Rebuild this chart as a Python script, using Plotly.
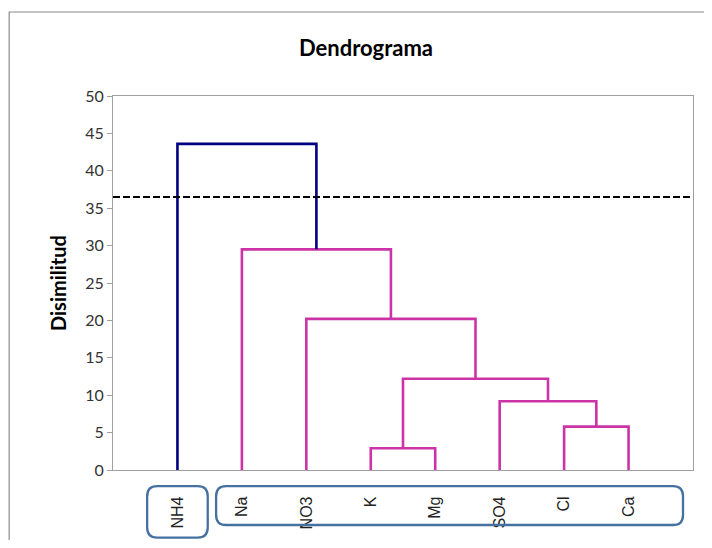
import plotly.graph_objects as go

# ---- data ----
leaves = ["NH4", "Na", "NO3", "K", "Mg", "SO4", "Cl", "Ca"]
# merges (scipy style): child_a, child_b, dissimilarity ; new ids start at len(leaves)
merge_a = [3, 6, 5, 8, 2, 1, 0]
merge_b = [4, 7, 9, 10, 11, 12, 13]
merge_h = [2.9, 5.8, 9.2, 12.2, 20.2, 29.5, 43.6]
cut_level = 36.5

NAVY = "#000080"
MAGENTA = "#CC33A6"

# positions of nodes
pos = {i: i + 1 for i in range(len(leaves))}
hgt = {i: 0.0 for i in range(len(leaves))}

fig = go.Figure()
for k, (a, b, h) in enumerate(zip(merge_a, merge_b, merge_h)):
    nid = len(leaves) + k
    xa, xb = pos[a], pos[b]
    color = NAVY if h > cut_level else MAGENTA
    fig.add_trace(go.Scatter(
        x=[xa, xa, xb, xb], y=[hgt[a], h, h, hgt[b]],
        mode="lines", line=dict(color=color, width=2.6),
        showlegend=False, hoverinfo="skip"))
    pos[nid] = (xa + xb) / 2
    hgt[nid] = h

# cut line
fig.add_trace(go.Scatter(
    x=[0, len(leaves) + 1], y=[cut_level, cut_level], mode="lines",
    line=dict(color="black", width=2, dash="7px,3px"),
    showlegend=False, hoverinfo="skip"))

def rounded(x0, x1, y0, y1, rx=0.155, ry=0.027):
    return (f"M {x0+rx},{y0} L {x1-rx},{y0} Q {x1},{y0} {x1},{y0-ry} "
            f"L {x1},{y1+ry} Q {x1},{y1} {x1-rx},{y1} L {x0+rx},{y1} "
            f"Q {x0},{y1} {x0},{y1+ry} L {x0},{y0-ry} Q {x0},{y0} {x0+rx},{y0} Z")

shapes = [
    dict(type="path", xref="x", yref="paper", path=rounded(0.53, 1.47, -0.043, -0.181),
         line=dict(color="#4471A0", width=2.3)),
    dict(type="path", xref="x", yref="paper", path=rounded(1.6, 8.845, -0.043, -0.147),
         line=dict(color="#4471A0", width=2.3)),
    dict(type="rect", xref="paper", yref="paper", x0=-0.179, x1=1.2, y0=-0.4, y1=1.2246,
         line=dict(color="#898989", width=1.2)),
]

OFF = 8  # page body margin offset
W, H = 712 - 2 * OFF, 548 - 2 * OFF

fig.update_layout(
    width=W, height=H,
    margin=dict(l=113 - OFF, r=W - (693 - OFF), t=96 - OFF, b=H - (470 - OFF)),
    paper_bgcolor="white", plot_bgcolor="white",
    title=dict(text="<b>Dendrograma</b>", x=(366 - OFF) / W, xref="container", xanchor="center",
               y=1 - (48 - OFF) / H, yref="container", yanchor="middle",
               font=dict(family="Lato", size=22, color="black")),
    shapes=shapes,
    annotations=[dict(text="<b>Disimilitud</b>", xref="paper", yref="paper",
                      x=-0.0948, y=0.5, textangle=-90, showarrow=False,
                      xanchor="center", yanchor="middle",
                      font=dict(family="Lato", size=20, color="black"))],
    xaxis=dict(range=[0, len(leaves) + 1], tickmode="array",
               tickvals=list(range(1, len(leaves) + 1)), ticktext=leaves,
               tickangle=-90, ticks="", ticklabelstandoff=19,
               tickfont=dict(family="Liberation Sans", size=16, color="#222222"),
               showgrid=False, zeroline=False, showline=True, linecolor="#A0A0A0",
               linewidth=1.2, mirror=True, fixedrange=True),
    yaxis=dict(range=[0, 50], dtick=5, ticks="outside", ticklen=5, tickcolor="#A0A0A0",
               tickfont=dict(family="Lato", size=16, color="#333333"),
               showgrid=False, zeroline=False, showline=True, linecolor="#A0A0A0",
               linewidth=1.2, mirror=True, fixedrange=True),
)

fig.write_html("out.html")
